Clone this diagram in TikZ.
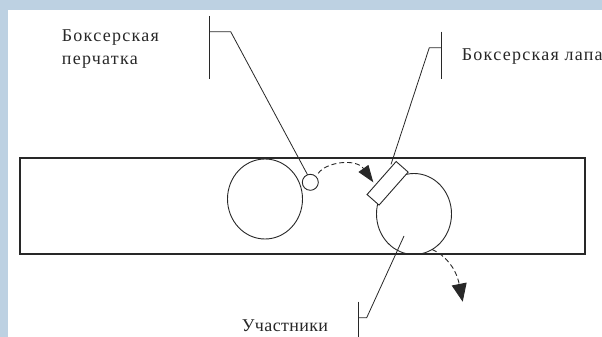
\documentclass[tikz,border=0pt]{standalone}
\usepackage{fontspec}
\setmainfont{Liberation Serif}
\newfontfamily\lblfontwide[LetterSpace=7]{Liberation Serif}
\newfontfamily\lblfontmid[LetterSpace=2]{Liberation Serif}
\usetikzlibrary{shapes.geometric,arrows.meta,calc}
\definecolor{bgblue}{RGB}{189,209,226}
\definecolor{ink}{RGB}{40,40,40}
\tikzset{
  line/.style={draw=ink, line width=0.8pt},
  person/.style={ellipse, draw=ink, line width=0.9pt, inner sep=0pt, outer sep=0pt},
  glovestyle/.style={circle, draw=ink, line width=0.9pt, inner sep=0pt, outer sep=0pt, minimum size=16pt},
  padstyle/.style={rectangle, draw=ink, line width=0.9pt, inner sep=0pt, outer sep=0pt, minimum width=44pt, minimum height=16pt, rotate=48.6},
  lbl/.style={text=ink, inner sep=0pt},
  movearrow/.style={draw=ink, line width=0.9pt, dash pattern=on 5pt off 3pt},
}
\begin{document}
\begin{tikzpicture}[x=1pt,y=-1pt]
\useasboundingbox (0,0) rectangle (602,337);
\fill[bgblue] (0,0) rectangle (602,337);
\fill[white] (8,10) rectangle (602,337);
% field
\node[draw=ink, line width=1.1pt, minimum width=565pt, minimum height=96pt, inner sep=0pt, outer sep=0pt] (field) at (302.5,206) {};
% participants
\node[person, minimum width=75pt, minimum height=80pt] (p1) at (265,199) {};
\node[person, minimum width=75pt, minimum height=81pt] (p2) at (414,214) {};
\node[glovestyle] (glove) at (310.3,182.3) {};
\node[padstyle, fill=white] (pad) at (387.6,183.3) {};
% labels
\node[lbl, anchor=base west, align=left, font=\lblfontwide\fontsize{18}{24}\selectfont] (tglove) at (61.7,65) {Боксерская\\перчатка};
\node[lbl, anchor=base west, font=\lblfontwide\fontsize{18}{24}\selectfont] (tpad) at (461.7,60) {Боксерская лапа};
\node[lbl, anchor=base west, font=\lblfontmid\fontsize{18}{24}\selectfont] (tpart) at (241.7,331.7) {Участники};
% leader for glove
\coordinate (gtop) at (209,16);
\coordinate (gbot) at (209,79);
\coordinate (gmid) at (209,31.7);
\coordinate (gknee) at (230.7,31.7);
\draw[line] (gtop) -- (gbot);
\draw[line] (gmid) -- (gknee) -- (glove.110);
% leader for pad
\coordinate (ltop) at (441,31.7);
\coordinate (lbot) at (441,79.3);
\coordinate (lmid) at (441,47.7);
\coordinate (lknee) at (429.3,47.7);
\draw[line] (ltop) -- (lbot);
\draw[line, shorten >=5pt] (lmid) -- (lknee) -- ($(pad.north)!0.54!(pad.north east)$);
% leader for participants
\coordinate (utop) at (358,301.7);
\coordinate (ubot) at (358,337);
\coordinate (umid) at (358,317.7);
\coordinate (uknee) at (366.7,317.7);
\coordinate (uend) at ($(p2.center)+(-10,22)$);
\draw[line] (utop) -- (ubot);
\draw[line] (umid) -- (uknee) -- (uend);
% movement arrows
\coordinate (a1end) at (373.3,182.3);
\draw[movearrow, shorten <=4pt, -{Triangle[length=17pt,width=12pt]}] (glove.45) .. controls (326,162) and (356,158) .. (a1end);
\coordinate (a2end) at (462.7,301.7);
\draw[movearrow, -{Triangle[length=18pt,width=15pt]}] (p2.-63) .. controls (445,255) and (456,268) .. (a2end);
\end{tikzpicture}
\end{document}
